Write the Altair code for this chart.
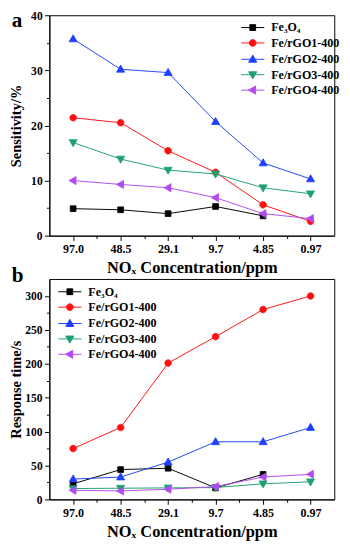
import json
import altair as alt
import pandas as pd

# ---------------- data ----------------
concentrations = ["97.0", "48.5", "29.1", "9.7", "4.85", "0.97"]
series = ["Fe₃O₄", "Fe/rGO1-400", "Fe/rGO2-400", "Fe/rGO3-400", "Fe/rGO4-400"]
colors = ["#000000", "#ff1010", "#1f3fff", "#1fa070", "#b04cf0"]

# panel a: sensitivity (%)
sens_fe3o4 = [4.9, 4.7, 4.0, 5.3, 3.6, None]
sens_rgo1 = [21.4, 20.5, 15.4, 11.5, 5.6, 2.6]
sens_rgo2 = [35.7, 30.2, 29.6, 20.7, 13.2, 10.3]
sens_rgo3 = [16.9, 13.9, 11.9, 11.2, 8.7, 7.6]
sens_rgo4 = [10.0, 9.3, 8.7, 6.9, 4.0, 3.1]

# panel b: response time (s)
resp_fe3o4 = [23, 44, 46, 17, 37, None]
resp_rgo1 = [75, 106, 201, 240, 280, 300]
resp_rgo2 = [30, 33, 55, 85, 85, 106]
resp_rgo3 = [16, 16.5, 17, 17.5, 23, 26]
resp_rgo4 = [13.5, 12.5, 15, 19, 33, 37]

sens_ticks = [0, 5, 10, 15, 20, 25, 30, 35, 40]
resp_ticks = [0, 25, 50, 75, 100, 125, 150, 175, 200, 225, 250, 275, 300]
x_ticks = [0, 0.5, 1, 1.5, 2, 2.5, 3, 3.5, 4, 4.5, 5]
panel_letters = ["a", "b"]

FONT = "Liberation Serif"
W, H = 296, 229

square = "M-1,-1H1V1H-1Z"
circle = "M1.15,0A1.15,1.15,0,1,1,-1.15,0A1.15,1.15,0,1,1,1.15,0Z"
tri_up = "M0,-1.45L1.4,1L-1.4,1Z"
tri_down = "M0,1.45L1.4,-1L-1.4,-1Z"
tri_left = "M-1.45,0L1,-1.4L1,1.4Z"
marker_paths = [square, circle, tri_up, tri_down, tri_left]
legend_paths = ["M-4,0H4" + p for p in marker_paths]


def long_df(values_by_series):
    rows = []
    for s, vals in zip(series, values_by_series):
        for i, (c, v) in enumerate(zip(concentrations, vals)):
            if v is None:
                continue
            rows.append({"series": s, "idx": i, "conc": c, "value": v})
    return pd.DataFrame(rows)


def panel(values, y_title, y_max, y_ticks, y_major, leg_x, leg_y, letter, letter_y):
    df = long_df(values)
    x_label_expr = ("datum.value % 1 == 0 ? " + json.dumps(concentrations)
                    + "[datum.value] : ''")
    x = alt.X(
        "idx:Q",
        scale=alt.Scale(domain=[-0.5, 5.5], nice=False, zero=False),
        axis=alt.Axis(
            values=x_ticks,
            labelExpr=x_label_expr,
            tickSize={"condition": {"test": "datum.value % 1 == 0", "value": 5}, "value": 3},
            title="NOₓ Concentration/ppm",
            titleFontSize=17,
            titlePadding=5,
            labelPadding=3,
            labelFontSize=12.5,
        ),
    )
    y = alt.Y(
        "value:Q",
        scale=alt.Scale(domain=[0, y_max], nice=False),
        axis=alt.Axis(
            values=y_ticks,
            labelExpr=f"datum.value % {y_major} == 0 ? datum.value : ''",
            tickSize={"condition": {"test": f"datum.value % {y_major} == 0", "value": 5},
                      "value": 3},
            title=y_title,
            titleFontSize=15,
            titleX=-27,
            titleY=H / 2,
            titleAngle=270,
            titleBaseline="bottom",
            titleAlign="center",
            labelPadding=2.5,
            labelFontSize=12,
        ),
    )
    cscale = alt.Scale(domain=series, range=colors)
    base = alt.Chart(df)
    lines = base.mark_line(strokeWidth=1).encode(
        x=x, y=y, stroke=alt.Stroke("series:N", scale=cscale, legend=None)
    )
    points = base.mark_point(filled=True, size=36, opacity=1, strokeWidth=0.8).encode(
        x=x,
        y=y,
        fill=alt.Fill("series:N", scale=cscale, legend=None),
        stroke=alt.Stroke("series:N", scale=cscale, legend=None),
        shape=alt.Shape("series:N", scale=alt.Scale(domain=series, range=marker_paths),
                        legend=None),
    )
    leg = alt.Legend(
        orient="none", legendX=leg_x, legendY=leg_y, title=None,
        labelFont=FONT, labelFontSize=12.5, labelFontWeight="bold", labelColor="black",
        symbolSize=36, symbolStrokeWidth=1, labelOffset=13, rowPadding=3, padding=0,
        symbolOpacity=1,
    )
    legend_layer = base.transform_filter("false").mark_point(
        filled=True, size=36, opacity=1, strokeWidth=1
    ).encode(
        fill=alt.Fill("series:N", scale=cscale, legend=leg),
        stroke=alt.Stroke("series:N", scale=cscale, legend=leg),
        shape=alt.Shape("series:N", scale=alt.Scale(domain=series, range=legend_paths),
                        legend=leg),
    )
    label = alt.Chart(pd.DataFrame({"letter": [letter]})).mark_text(
        font=FONT, fontSize=22, fontWeight="bold", color="black",
        align="left", baseline="top",
    ).encode(text="letter:N", x=alt.value(-39), y=alt.value(letter_y))
    return (
        alt.layer(lines, points, legend_layer, label)
        .resolve_scale(fill="independent", stroke="independent", shape="independent")
        .resolve_legend(fill="independent", stroke="independent", shape="independent")
        .properties(width=W, height=H)
    )


pa = panel([sens_fe3o4, sens_rgo1, sens_rgo2, sens_rgo3, sens_rgo4],
           "Sensitivity/%", 40, sens_ticks, 10, 205, 6.5, panel_letters[0], -5)
pb = panel([resp_fe3o4, resp_rgo1, resp_rgo2, resp_rgo3, resp_rgo4],
           "Response time/s", 325, resp_ticks, 50, 15, 7, panel_letters[1], -14)

chart = (
    alt.vconcat(pa, pb, spacing=45, bounds="flush")
    .properties(padding={"left": 0, "top": -10, "right": 1, "bottom": 0})
    .configure_view(stroke="black", strokeWidth=1)
    .configure_axis(
        domainColor="black", domainWidth=1, tickColor="black", tickWidth=1,
        labelColor="black", titleColor="black", grid=False,
        labelFont=FONT, labelFontWeight="bold", titleFont=FONT, titleFontWeight="bold",
    )
)

chart.save("out.html", embed_options={"renderer": "svg", "actions": False})
